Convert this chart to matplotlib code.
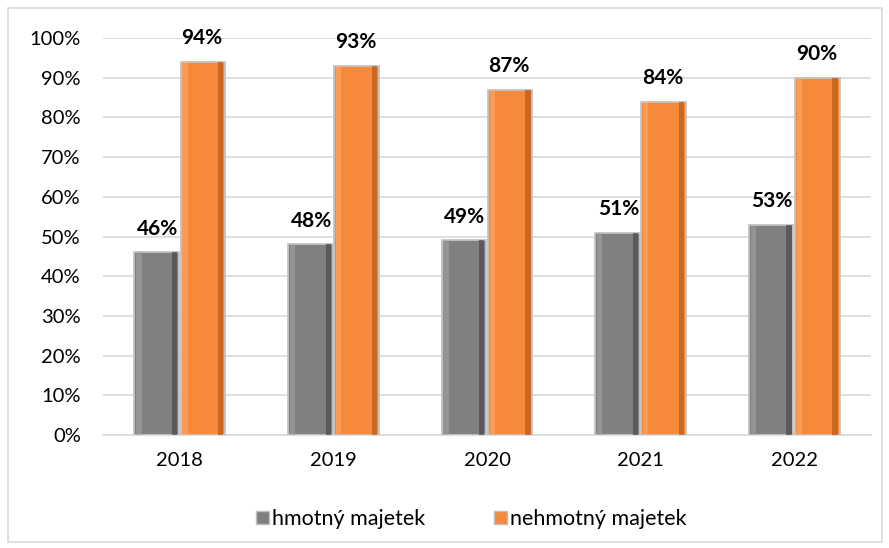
import matplotlib
matplotlib.use("Agg")
import matplotlib.pyplot as plt
import numpy as np
from matplotlib.patches import Rectangle

years = ["2018", "2019", "2020", "2021", "2022"]
hmotny = [46, 48, 49, 51, 53]
nehmotny = [94, 93, 87, 84, 90]
series_names = ["hmotný majetek", "nehmotný majetek"]
yticks = [0, 10, 20, 30, 40, 50, 60, 70, 80, 90, 100]

plt.rcParams['font.family'] = ['Lato', 'DejaVu Sans']

fig = plt.figure(figsize=(8.89, 5.48), dpi=100)
ax = fig.add_axes([103/889, 1 - 435/548, 768/889, 397/548])

x = np.arange(len(years))
w = 0.29
gray = "#808080"
orange = "#f7893a"

def bevel_bars(xs, vals, color, dark, light):
    ax.bar(xs, vals, width=w, color=color, edgecolor="#c4c4c4", linewidth=1.3, zorder=3)
    ax.bar(xs + w*0.40, vals, width=w*0.12, color=dark, linewidth=0, zorder=4, alpha=0.7)
    ax.bar(xs - w*0.40, vals, width=w*0.12, color=light, linewidth=0, zorder=4, alpha=0.5)

bevel_bars(x - w/2 - 0.005, hmotny, gray, "#4a4a4a", "#a8a8a8")
bevel_bars(x + w/2 + 0.005, nehmotny, orange, "#b85a18", "#ffae70")

for xi, v in zip(x - w/2, hmotny):
    ax.text(xi, v + 3.4, f"{v}%", ha="center", va="bottom", fontsize=15, fontweight="bold", color="black", zorder=5)
for xi, v in zip(x + w/2, nehmotny):
    ax.text(xi, v + 3.4, f"{v}%", ha="center", va="bottom", fontsize=15, fontweight="bold", color="black", zorder=5)

ax.set_xlim(-0.5, len(years) - 0.5)
ax.set_ylim(0, 100)
ax.set_yticks(yticks)
ax.set_yticklabels([f"{t}%" for t in yticks], fontsize=14.5)
ax.set_xticks(x)
ax.set_xticklabels(years, fontsize=14.5)
ax.tick_params(axis='x', length=0, pad=12)
ax.tick_params(axis='y', length=0, pad=16)
ax.grid(axis='y', color="#d9d9d9", linewidth=1.2, zorder=0)
for s in ["top", "right", "left"]:
    ax.spines[s].set_visible(False)
ax.spines["bottom"].set_color("#d9d9d9")
ax.spines["bottom"].set_linewidth(1.2)

handles = [Rectangle((0, 0), 1, 1, facecolor=gray, edgecolor="#bfbfbf"),
           Rectangle((0, 0), 1, 1, facecolor=orange, edgecolor="#bfbfbf")]
fig.legend(handles, series_names, loc="center", bbox_to_anchor=(0.53, 1 - 519/548),
           ncol=2, frameon=False, fontsize=15.5, handlelength=0.6, handleheight=0.6,
           handletextpad=0.15, columnspacing=3.2)

fig.patches.append(Rectangle((8/889, 1 - 542/548), 874/889, 534/548, transform=fig.transFigure,
                             fill=False, edgecolor="#d9d9d9", linewidth=1.2))

fig.savefig("out.png", dpi=100)
